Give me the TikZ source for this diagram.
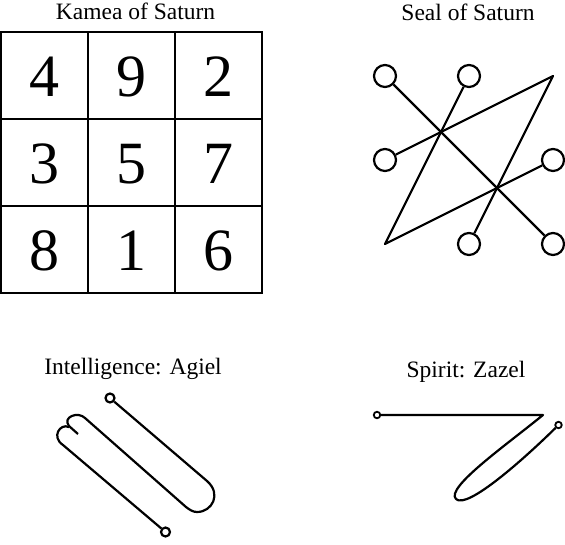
\documentclass[tikz,border=0pt]{standalone}
\usepackage{fontspec}
\setmainfont{Liberation Serif}
\usepackage{tikz}
\usetikzlibrary{positioning}
\tikzset{
  title/.style={font=\fontsize{23.5}{26}\selectfont,inner sep=0pt,anchor=base},
  cell/.style={draw,line width=2pt,minimum size=87pt,inner sep=0pt,text height=64pt,text depth=23pt,font=\fontsize{60}{60}\selectfont},
  seal/.style={draw,circle,line width=2.2pt,minimum size=22pt,inner sep=0pt},
  dot/.style={draw,circle,line width=2.2pt,minimum size=9pt,inner sep=0pt},
  tiny/.style={draw,circle,line width=1.8pt,minimum size=6.5pt,inner sep=0pt},
  sigil/.style={line width=2.2pt,black,line join=round}
}
\begin{document}
\begin{tikzpicture}[x=1pt,y=-1pt]
\useasboundingbox (0,0) rectangle (565,544);
% titles
\node[title] (kamea) at (135.5,19) {Kamea of Saturn};
\node[title] (sealtitle) at (468,20) {Seal of Saturn};
\node[title] (agieltitle) at (133,374) {Intelligence: Agiel};
\node[title] (zazeltitle) at (466,377) {Spirit: Zazel};
% kamea
\foreach \n [count=\i from 0] in {4,9,2,3,5,7,8,1,6} {
  \pgfmathtruncatemacro{\col}{mod(\i,3)}
  \pgfmathtruncatemacro{\row}{div(\i,3)}
  \node[cell] (c\n) at (44.5+87*\col,75.5+87*\row) {\n};
}
% seal
\node[seal] (s1) at (385,76) {};
\node[seal] (s2) at (469,76) {};
\node[seal] (s3) at (385,160) {};
\node[seal] (s4) at (553,160) {};
\node[seal] (s5) at (469,244) {};
\node[seal] (s6) at (553,244) {};
\coordinate (top) at (553,76);
\coordinate (bottom) at (385,244);
\draw[sigil] (s1) -- (s6);
\draw[sigil] (s2) -- (bottom) -- (s4);
\draw[sigil] (s3) -- (top) -- (s5);
% agiel
\node[dot] (a1) at (110,398) {};
\node[dot] (a2) at (165.5,532) {};
\coordinate (stub) at (78,434);
\draw[sigil] (a1) -- (207,481) .. controls (222,494) and (212,512) .. (197,512)
  .. controls (193,512) and (190,510) .. (186,507) -- (85,418)
  .. controls (78,411) and (62,417) .. (69,426) -- (stub);
\draw[sigil] (69,427) .. controls (60,423) and (51,437) .. (63,445) -- (a2);
% zazel
\node[tiny] (z1) at (377,415) {};
\node[tiny] (z2) at (558.5,425) {};
\coordinate (apex) at (543,415);
\draw[sigil] (z1) -- (apex) .. controls (505,446) and (445,488) .. (456,499)
  .. controls (467,510) and (525,458) .. (z2);
\end{tikzpicture}
\end{document}
